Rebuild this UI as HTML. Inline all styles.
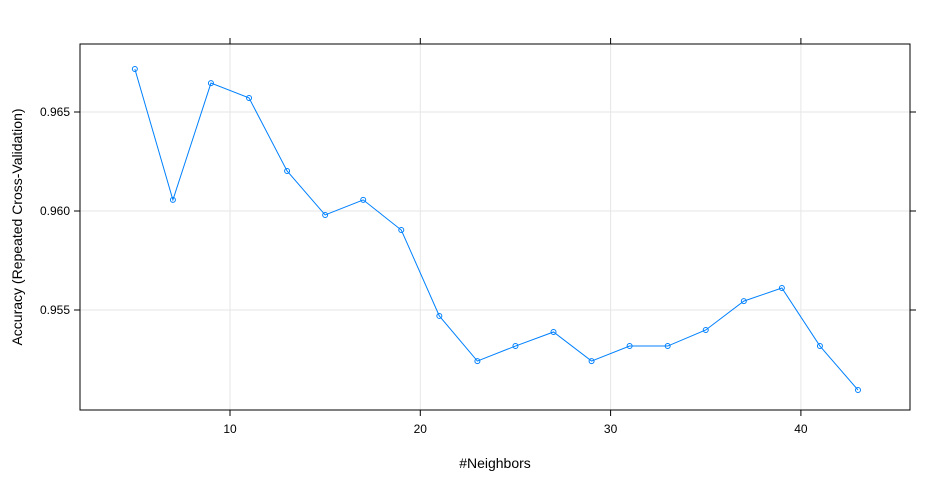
<!DOCTYPE html>
<html><head><meta charset="utf-8"><style>body{margin:0;background:#fff}svg{display:block}text{font-family:"Liberation Sans",sans-serif}</style></head>
<body>
<svg id="chart" width="948" height="484" xmlns="http://www.w3.org/2000/svg">
<g id="grid"></g>
<rect x="80" y="44" width="830" height="366" fill="none" stroke="#000" stroke-width="1"/>
<g id="axes"></g>
<g id="series"></g>
<text x="495" y="468" font-size="14" text-anchor="middle">#Neighbors</text>
<text transform="translate(22,227) rotate(-90)" font-size="14" text-anchor="middle">Accuracy (Repeated Cross-Validation)</text>
</svg>
<script>
const neighbors=[5,7,9,11,13,15,17,19,21,23,25,27,29,31,33,35,37,39,41,43];
const accuracy=[0.96717,0.96056,0.96646,0.96571,0.96202,0.95980,0.96056,0.95904,0.95470,0.95242,0.95318,0.95389,0.95242,0.95318,0.95318,0.95399,0.95545,0.95611,0.95318,0.95096];
const xTicks=[10,20,30,40];
const yTicks=[0.955,0.960,0.965];
const yTickLabels=["0.955","0.960","0.965"];
const NS="http://www.w3.org/2000/svg";
const L=80,R=910,T=44,B=410;
function xs(v){return 230+(v-10)*19.03;}
function ys(v){return 211-(v-0.960)*19800;}
function mk(tag,attrs,parent){const e=document.createElementNS(NS,tag);for(const k in attrs)e.setAttribute(k,attrs[k]);parent.appendChild(e);return e;}
const grid=document.getElementById('grid'),axes=document.getElementById('axes'),ser=document.getElementById('series');
xTicks.forEach(t=>{const x=xs(t);
 const g=mk('line',{x1:x,x2:x,y1:T,y2:B,stroke:'#e6e6e6'},grid);
 const a=mk('line',{x1:x,x2:x,y1:B,y2:B+6,stroke:'#000'},axes);
 const b=mk('line',{x1:x,x2:x,y1:T,y2:T-6,stroke:'#000'},axes);
 const tx=mk('text',{x:x,y:B+23,'font-size':12,'text-anchor':'middle'},axes);tx.textContent=t;
});
yTicks.forEach((t,i)=>{const y=ys(t);
 const g=mk('line',{x1:L,x2:R,y1:y,y2:y,stroke:'#e6e6e6'},grid);
 const a=mk('line',{x1:L,x2:L-6,y1:y,y2:y,stroke:'#000'},axes);
 const b=mk('line',{x1:R,x2:R+6,y1:y,y2:y,stroke:'#000'},axes);
 const tx=mk('text',{x:L-10,y:y+4,'font-size':12,'text-anchor':'end'},axes);tx.textContent=yTickLabels[i];
});
const pts=neighbors.map((n,i)=>xs(n)+','+ys(accuracy[i])).join(' ');
const pl=mk('polyline',{points:pts,fill:'none',stroke:'#0080ff','stroke-width':1},ser);


neighbors.forEach((n,i)=>{const c=mk('circle',{cx:xs(n),cy:ys(accuracy[i]),r:2.5,fill:'none',stroke:'#0080ff','stroke-width':1},ser);
 
 });
</script>
</body></html>
